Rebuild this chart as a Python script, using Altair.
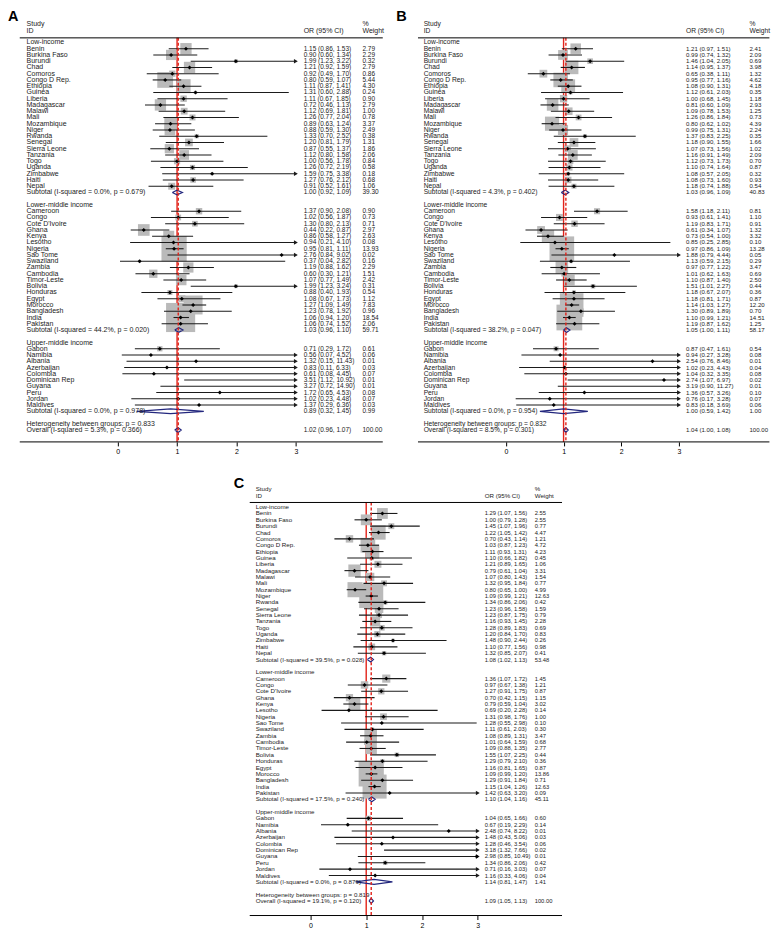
import altair as alt
import pandas as pd

# ---------------- data ----------------
low_income = ["Benin", "Burkina Faso", "Burundi", "Chad", "Comoros", "Congo D Rep.", "Ethiopia",
              "Guinea", "Liberia", "Madagascar", "Malawi", "Mali", "Mozambique", "Niger", "Rwanda",
              "Senegal", "Sierra Leone", "Tanzania", "Togo", "Uganda", "Zimbabwe", "Haiti", "Nepal"]
lower_middle = ["Cameroon", "Congo", "Cote D'Ivoire", "Ghana", "Kenya", "Lesotho", "Nigeria",
                "Sao Tome", "Swaziland", "Zambia", "Cambodia", "Timor-Leste", "Bolivia", "Honduras",
                "Egypt", "Morocco", "Bangladesh", "India", "Pakistan"]
upper_middle = ["Gabon", "Namibia", "Albania", "Azerbaijan", "Colombia", "Dominican Rep",
                "Guyana", "Peru", "Jordan", "Maldives"]
group_titles = ["Low-income", "Lower-middle income", "Upper-middle income"]

# Panel A
A_or = [1.15, 0.90, 1.99, 1.21, 0.92, 0.80, 1.11, 1.31, 1.11, 0.72, 1.12, 1.26, 0.89, 0.88, 1.33, 1.20, 0.87, 1.12, 1.00, 1.26, 1.59, 1.27, 0.91,
        1.37, 1.02, 1.30, 0.44, 0.86, 0.94, 0.95, 2.76, 0.37, 1.19, 0.60, 1.07, 1.99, 0.88, 1.08, 1.27, 1.23, 1.06, 1.06,
        0.71, 0.56, 1.32, 0.83, 0.61, 3.51, 3.27, 1.72, 1.02, 1.37]
A_lo = [0.86, 0.60, 1.23, 0.92, 0.49, 0.59, 0.87, 0.60, 0.67, 0.46, 0.69, 0.77, 0.63, 0.59, 0.70, 0.81, 0.55, 0.80, 0.56, 0.72, 0.75, 0.76, 0.52,
        0.90, 0.56, 0.80, 0.22, 0.58, 0.21, 0.81, 0.84, 0.04, 0.88, 0.30, 0.77, 1.23, 0.40, 0.67, 1.09, 0.78, 0.94, 0.74,
        0.29, 0.07, 0.15, 0.11, 0.08, 1.12, 0.72, 0.65, 0.23, 0.29]
A_hi = [1.53, 1.34, 3.22, 1.59, 1.70, 1.07, 1.41, 2.88, 1.85, 1.13, 1.81, 2.04, 1.24, 1.30, 2.52, 1.79, 1.37, 1.58, 1.78, 2.19, 3.38, 2.12, 1.61,
        2.08, 1.87, 2.13, 0.87, 1.27, 4.10, 1.11, 9.02, 2.82, 1.62, 1.21, 1.49, 3.24, 1.93, 1.73, 1.49, 1.92, 1.20, 1.52,
        1.72, 4.52, 11.43, 6.33, 4.45, 10.92, 14.90, 4.53, 4.48, 6.36]
A_w = [2.79, 2.29, 0.32, 2.79, 0.86, 5.44, 4.30, 0.24, 0.90, 2.79, 1.00, 0.78, 3.37, 2.49, 0.38, 1.31, 1.86, 2.06, 0.84, 0.58, 0.18, 0.68, 1.06,
       0.90, 0.73, 0.71, 2.97, 2.63, 0.08, 13.93, 0.02, 0.16, 2.29, 1.51, 2.42, 0.31, 0.54, 1.12, 7.83, 0.96, 18.54, 2.06,
       0.61, 0.06, 0.01, 0.03, 0.07, 0.01, 0.01, 0.08, 0.07, 0.03]
A_sub_or = [1.00, 1.03, 0.89]
A_sub_lo = [0.92, 0.96, 0.32]
A_sub_hi = [1.09, 1.10, 1.45]
A_sub_w = [39.30, 59.71, 0.99]
A_sub_i2 = ["0.0%", "44.2%", "0.0%"]
A_sub_p = ["0.679", "0.020", "0.978"]
A_overall = [1.02, 0.96, 1.07, 100.00]
A_overall_stats = ["5.3%", "0.366"]
A_het_p = "0.833"

# Panel B
B_or = [1.21, 0.99, 1.46, 1.14, 0.65, 0.95, 1.08, 1.12, 1.00, 0.81, 1.09, 1.26, 0.80, 0.99, 1.37, 1.18, 1.07, 1.16, 1.12, 1.10, 1.08, 1.08, 1.18,
        1.58, 0.93, 1.19, 0.61, 0.73, 0.85, 0.97, 1.88, 1.13, 0.97, 1.01, 1.10, 1.51, 1.18, 1.18, 1.14, 1.30, 1.10, 1.19,
        0.87, 0.94, 2.54, 1.02, 1.04, 2.74, 3.19, 1.36, 0.76, 0.83]
B_lo = [0.97, 0.74, 1.04, 0.95, 0.38, 0.77, 0.90, 0.61, 0.68, 0.60, 0.78, 0.86, 0.62, 0.75, 0.83, 0.90, 0.73, 0.91, 0.73, 0.74, 0.57, 0.73, 0.74,
        1.18, 0.61, 0.83, 0.34, 0.54, 0.25, 0.86, 0.79, 0.59, 0.77, 0.62, 0.87, 1.01, 0.67, 0.81, 1.03, 0.89, 0.99, 0.87,
        0.47, 0.27, 0.76, 0.23, 0.32, 1.07, 0.90, 0.57, 0.17, 0.18]
B_hi = [1.51, 1.32, 2.05, 1.37, 1.11, 1.16, 1.31, 2.03, 1.45, 1.09, 1.53, 1.84, 1.02, 1.31, 2.25, 1.55, 1.56, 1.49, 1.73, 1.64, 2.05, 1.60, 1.88,
        2.11, 1.41, 1.71, 1.07, 1.00, 2.85, 1.09, 4.44, 2.15, 1.22, 1.63, 1.40, 2.27, 2.07, 1.71, 1.27, 1.89, 1.21, 1.62,
        1.61, 3.28, 8.46, 4.43, 3.35, 6.97, 11.27, 3.26, 3.28, 3.69]
B_w = [2.41, 2.09, 0.69, 3.98, 1.32, 4.62, 4.18, 0.35, 1.18, 2.93, 1.25, 0.73, 4.39, 2.24, 0.35, 1.66, 1.02, 2.09, 0.70, 0.87, 0.32, 0.93, 0.54,
       0.81, 1.10, 0.91, 1.32, 3.32, 0.10, 13.28, 0.05, 0.29, 3.47, 0.69, 2.50, 0.44, 0.36, 0.87, 12.20, 0.70, 14.51, 1.25,
       0.54, 0.08, 0.01, 0.04, 0.08, 0.02, 0.01, 0.10, 0.07, 0.06]
B_sub_or = [1.03, 1.05, 1.00]
B_sub_lo = [0.96, 1.00, 0.59]
B_sub_hi = [1.09, 1.11, 1.42]
B_sub_w = [40.83, 58.17, 1.00]
B_sub_i2 = ["4.3%", "38.2%", "0.0%"]
B_sub_p = ["0.402", "0.047", "0.954"]
B_overall = [1.04, 1.00, 1.08, 100.00]
B_overall_stats = ["8.5%", "0.301"]
B_het_p = "0.832"

# Panel C
C_or = [1.29, 1.00, 1.45, 1.22, 0.70, 1.03, 1.11, 1.10, 1.21, 0.79, 1.07, 1.32, 0.80, 1.09, 1.34, 1.23, 1.23, 1.16, 1.28, 1.20, 1.48, 1.10, 1.32,
        1.36, 0.97, 1.27, 0.70, 0.79, 0.69, 1.31, 1.28, 1.11, 1.08, 1.01, 1.09, 1.55, 1.29, 1.16, 1.09, 1.29, 1.15, 1.42,
        1.04, 0.67, 2.48, 1.48, 1.28, 3.18, 2.98, 1.34, 0.71, 1.16]
C_lo = [1.07, 0.79, 1.07, 1.05, 0.43, 0.87, 0.93, 0.66, 0.89, 0.61, 0.80, 0.95, 0.65, 0.99, 0.86, 0.96, 0.87, 0.93, 0.89, 0.84, 0.90, 0.77, 0.85,
        1.07, 0.67, 0.91, 0.42, 0.59, 0.20, 0.98, 0.55, 0.61, 0.89, 0.64, 0.88, 1.07, 0.79, 0.81, 0.99, 0.91, 1.04, 0.63,
        0.65, 0.19, 0.74, 0.43, 0.46, 1.32, 0.85, 0.86, 0.16, 0.33]
C_hi = [1.56, 1.28, 1.96, 1.42, 1.14, 1.23, 1.31, 1.82, 1.65, 1.04, 1.43, 1.84, 1.00, 1.21, 2.06, 1.58, 1.75, 1.45, 1.83, 1.70, 2.44, 1.56, 2.07,
        1.72, 1.38, 1.75, 1.15, 1.04, 2.28, 1.76, 2.98, 2.03, 1.31, 1.59, 1.35, 2.25, 2.10, 1.65, 1.20, 1.84, 1.26, 3.20,
        1.66, 2.29, 8.22, 5.06, 3.54, 7.66, 10.49, 2.06, 3.03, 4.06]
C_w = [2.55, 2.55, 0.77, 4.47, 1.21, 4.72, 4.23, 0.45, 1.06, 3.31, 1.54, 0.77, 4.99, 12.63, 0.42, 1.59, 0.79, 2.28, 0.69, 0.83, 0.26, 0.98, 0.41,
       1.45, 1.21, 0.87, 1.15, 3.02, 0.14, 1.00, 0.10, 0.30, 3.47, 0.68, 2.77, 0.44, 0.36, 0.87, 13.86, 0.71, 12.63, 0.09,
       0.60, 0.14, 0.01, 0.03, 0.06, 0.02, 0.01, 0.42, 0.07, 0.04]
C_sub_or = [1.08, 1.10, 1.14]
C_sub_lo = [1.02, 1.04, 0.81]
C_sub_hi = [1.13, 1.16, 1.47]
C_sub_w = [53.48, 45.11, 1.41]
C_sub_i2 = ["39.5%", "17.5%", "0.0%"]
C_sub_p = ["0.028", "0.240", "0.879"]
C_overall = [1.09, 1.05, 1.13, 100.00]
C_overall_stats = ["19.1%", "0.120"]
C_het_p = "0.819"

tick_values = [0, 1, 2, 3]
x_clip = 3

# ---------------- style ----------------
FONT = "Liberation Sans"
RED = "#e2231a"
NAVY = "#23277e"
INK = "#1b1b1b"
BOX = "#bababa"
HALF_H = 0.38  # diamond half-height in rows


def build_tables(orv, lo, hi, w, s_or, s_lo, s_hi, s_w, s_i2, s_p, overall, ov_stats, het_p):
    recs = []
    r = 0
    k = 0
    for g, names in enumerate([low_income, lower_middle, upper_middle]):
        recs.append({"r": r, "label": group_titles[g], "kind": "head"})
        r += 1
        for nm in names:
            recs.append({"r": r, "label": nm, "kind": "study",
                         "est": orv[k], "lo": lo[k], "hi": hi[k], "w": w[k]})
            r += 1
            k += 1
        recs.append({"r": r, "label": f"Subtotal  (I-squared = {s_i2[g]}, p = {s_p[g]})",
                     "kind": "sub", "est": s_or[g], "lo": s_lo[g], "hi": s_hi[g], "w": s_w[g]})
        r += 2
    recs.append({"r": r, "label": f"Heterogeneity between groups: p = {het_p}", "kind": "het"})
    r += 1
    recs.append({"r": r, "label": f"Overall  (I-squared = {ov_stats[0]}, p = {ov_stats[1]})",
                 "kind": "overall", "est": overall[0], "lo": overall[1], "hi": overall[2],
                 "w": overall[3]})
    df = pd.DataFrame(recs)
    has = df["est"].notna()
    df["ci_txt"] = ""
    df.loc[has, "ci_txt"] = [f"{e:.2f} ({a:.2f}, {b:.2f})" for e, a, b in
                             zip(df.loc[has, "est"], df.loc[has, "lo"], df.loc[has, "hi"])]
    df["w_txt"] = ""
    df.loc[has, "w_txt"] = [f"{v:.2f}" for v in df.loc[has, "w"]]
    df["hi_c"] = df["hi"].clip(upper=x_clip)

    dia = []
    for _, q in df[df["kind"].isin(["sub", "overall"])].iterrows():
        pts = [(q["lo"], q["r"]), (q["est"], q["r"] - HALF_H), (q["hi"], q["r"]),
               (q["est"], q["r"] + HALF_H), (q["lo"], q["r"])]
        for i, (xx, yy) in enumerate(pts):
            dia.append({"id": int(q["r"]), "ord": i, "x": xx, "y": yy})
    return df, pd.DataFrame(dia)


def make_panel(letter, tables, geo):
    df, dia = tables
    xs = alt.Scale(domain=[geo["xmin"], geo["xmax"]], nice=False, zero=False)
    ys = alt.Scale(domain=[geo["ytop"], geo["yaxis"]], reverse=True, nice=False, zero=False)
    xax = alt.Axis(values=tick_values, format="d", domain=False, grid=False, ticks=True,
                   tickSize=4, tickColor="black", tickWidth=1, labelFontSize=7,
                   labelFont=FONT, labelColor="black", labelPadding=2, labelFlush=False,
                   title=None)

    def X(f):
        return alt.X(f, type="quantitative", scale=xs, axis=xax)

    def XD(v):
        return alt.XDatum(v, type="quantitative", scale=xs, axis=xax)

    def Y(f):
        return alt.Y(f, type="quantitative", scale=ys, axis=None)

    def YD(v):
        return alt.YDatum(v, type="quantitative", scale=ys, axis=None)

    one = pd.DataFrame({"a": [0]})
    studies = df[df["kind"] == "study"]
    shown = studies[studies["est"] <= x_clip]
    arrows = studies[studies["hi"] > x_clip]
    ov_est = float(df.loc[df["kind"] == "overall", "est"].iloc[0])
    wmax = float(studies["w"].max())
    top_rule = geo["hrule"]

    red_solid = alt.Chart(one).mark_rule(color=RED, strokeWidth=1.4).encode(
        x=XD(1), y=YD(top_rule), y2=alt.Y2Datum(geo["yaxis"]))
    boxes = alt.Chart(shown).mark_square(color=BOX, opacity=1).encode(
        x=X("est"), y=Y("r"),
        size=alt.Size("w:Q", scale=alt.Scale(domain=[0, wmax], range=[0, geo["boxarea"]]), legend=None))
    ci = alt.Chart(studies).mark_rule(color=INK, strokeWidth=1.1).encode(
        x=X("lo"), x2="hi_c", y=Y("r"))
    arr = alt.Chart(arrows).mark_point(shape="triangle-right", filled=True, size=20,
                                       color=INK, opacity=1).encode(x=X("hi_c"), y=Y("r"))
    pts = alt.Chart(shown).mark_point(shape="diamond", filled=True, size=16,
                                      color="black", opacity=1).encode(x=X("est"), y=Y("r"))
    dmd = alt.Chart(dia).mark_line(color=NAVY, strokeWidth=1.2).encode(
        x=X("x"), y=Y("y"), detail="id:N", order="ord:Q")
    red_dash = alt.Chart(one).mark_rule(color=RED, strokeWidth=1.4, strokeDash=[3, 2]).encode(
        x=XD(ov_est), y=YD(top_rule), y2=alt.Y2Datum(geo["yaxis"]))
    rules_df = pd.DataFrame({"x0": [geo["rule_x"], geo["rule_x"]],
                             "x1": [geo["xmax"], geo["xmax"]],
                             "y": [top_rule, geo["yaxis"]]})
    hrules = alt.Chart(rules_df).mark_rule(color="black", strokeWidth=1).encode(
        x=X("x0"), x2="x1", y=Y("y"))

    lab = alt.Chart(df).mark_text(align="left", baseline="middle", font=FONT,
                                  fontSize=geo["lfs"], color=INK).encode(
        x=XD(geo["label_x"]), y=Y("r"), text="label:N")
    num = df[df["ci_txt"] != ""]
    citxt = alt.Chart(num).mark_text(align="left", baseline="middle", font=FONT,
                                     fontSize=geo["nfs"], color=INK).encode(
        x=XD(geo["ci_x"]), y=Y("r"), text="ci_txt:N")
    wtxt = alt.Chart(num).mark_text(align="left", baseline="middle", font=FONT,
                                    fontSize=geo["nfs"], color=INK).encode(
        x=XD(geo["w_x"]), y=Y("r"), text="w_txt:N")
    hdr = pd.DataFrame({
        "x": [geo["label_x"], geo["label_x"], geo["ci_x"], geo["w_x"], geo["w_x"]],
        "y": [geo["h1"], geo["h2"], geo["h2"], geo["h1"], geo["h2"]],
        "t": ["Study", "ID", "OR (95% CI)", "%", "Weight"]})
    htxt = alt.Chart(hdr).mark_text(align="left", baseline="middle", font=FONT,
                                    fontSize=geo["lfs"], color=INK).encode(
        x=X("x"), y=Y("y"), text="t:N")
    let = alt.Chart(one).mark_text(text=letter, align="left", baseline="alphabetic", font=FONT,
                                   fontSize=14.5, fontWeight="bold", color="black").encode(
        x=XD(geo["letter_x"]), y=YD(geo["letter_y"]))

    width = (geo["xmax"] - geo["xmin"]) * geo["ppu"]
    height = (geo["yaxis"] - geo["ytop"]) * geo["rpx"]
    return alt.layer(red_solid, boxes, ci, arr, pts, dmd, red_dash, hrules,
                     lab, citxt, wtxt, htxt, let).properties(width=width, height=height)


geoA = dict(xmin=-1.845, xmax=4.462, ppu=59.5, rule_x=-1.647, label_x=-1.533, ci_x=3.13,
            w_x=4.12, letter_x=-1.845, ytop=-5.25, yaxis=63.9, rpx=6.26, hrule=-0.73,
            h1=-2.91, h2=-1.82, letter_y=-3.38, lfs=7.0, nfs=6.5, boxarea=850)
geoB = dict(xmin=-1.898, xmax=4.566, ppu=57.8, rule_x=-1.522, label_x=-1.424, ci_x=3.12,
            w_x=4.22, letter_x=-1.898, ytop=-5.25, yaxis=63.9, rpx=6.26, hrule=-0.73,
            h1=-2.91, h2=-1.82, letter_y=-3.38, lfs=6.7, nfs=6.1, boxarea=850)
geoC = dict(xmin=-5.421, xmax=4.51, ppu=55.86, rule_x=-1.088, label_x=-0.981, ci_x=3.124,
            w_x=4.02, letter_x=-1.375, ytop=-4.9, yaxis=64.3, rpx=6.36, hrule=-0.73,
            h1=-2.91, h2=-1.82, letter_y=-3.03, lfs=6.2, nfs=5.8, boxarea=850)

panelA = make_panel("A", build_tables(A_or, A_lo, A_hi, A_w, A_sub_or, A_sub_lo, A_sub_hi, A_sub_w,
                                      A_sub_i2, A_sub_p, A_overall, A_overall_stats, A_het_p), geoA)
panelB = make_panel("B", build_tables(B_or, B_lo, B_hi, B_w, B_sub_or, B_sub_lo, B_sub_hi, B_sub_w,
                                      B_sub_i2, B_sub_p, B_overall, B_overall_stats, B_het_p), geoB)
panelC = make_panel("C", build_tables(C_or, C_lo, C_hi, C_w, C_sub_or, C_sub_lo, C_sub_hi, C_sub_w,
                                      C_sub_i2, C_sub_p, C_overall, C_overall_stats, C_het_p), geoC)

top = alt.hconcat(panelA, panelB, spacing=12.8, bounds="flush")
chart = alt.vconcat(top, panelC, spacing=20).properties(
    padding=0, background="white").configure_view(stroke=None)

chart.save("out.html", embed_options={"renderer": "svg", "actions": False})
